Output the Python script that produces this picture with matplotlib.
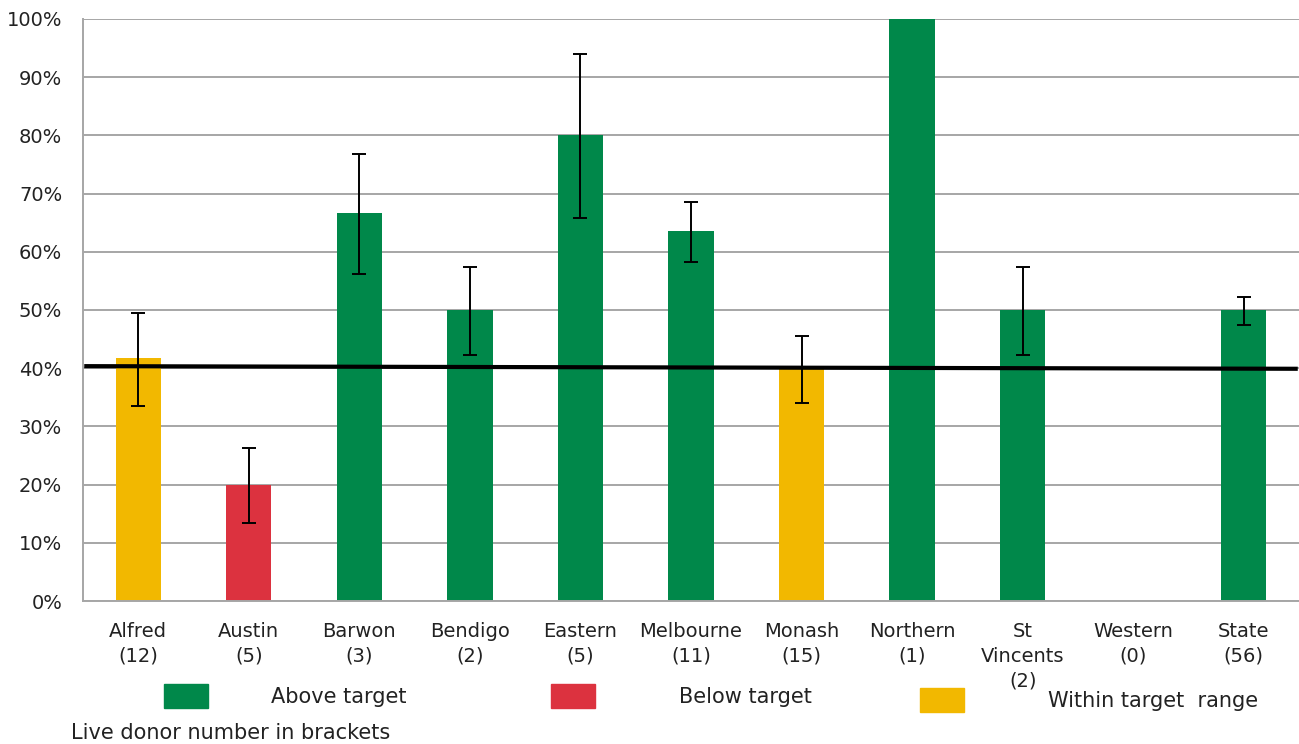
import matplotlib.pyplot as plt
from matplotlib.patches import Rectangle
import numpy as np

plt.rcParams["font.family"] = ["DejaVu Sans"]

hospitals = ["Alfred\n(12)", "Austin\n(5)", "Barwon\n(3)", "Bendigo\n(2)", "Eastern\n(5)",
             "Melbourne\n(11)", "Monash\n(15)", "Northern\n(1)", "St\nVincents\n(2)",
             "Western\n(0)", "State\n(56)"]
rate = [41.7, 20.0, 66.7, 50.0, 80.0, 63.6, 40.0, 100.0, 50.0, 0.0, 50.0]
upper = [49.5, 26.3, 76.8, 57.4, 94.0, 68.6, 45.5, 100.0, 57.4, 0.0, 52.2]
lower = [33.5, 13.4, 56.2, 42.3, 65.8, 58.2, 34.0, 100.0, 42.3, 0.0, 47.4]
status = ["within", "below", "above", "above", "above", "above", "within",
          "above", "above", "none", "above"]
target_line = [40.35, 39.9]

colours = {"above": "#00884A", "below": "#DC323F", "within": "#F2B800", "none": "#FFFFFF"}

fig = plt.figure(figsize=(12.99, 7.44), dpi=100)
ax = fig.add_axes([0.0639, 0.1922, 0.9361, 0.7823])

x = np.arange(len(hospitals))
rate = np.array(rate)
ax.bar(x, rate, width=0.41, color=[colours[s] for s in status], zorder=2)

# error bars only where there is an interval
has_err = np.array(upper) != np.array(lower)
yerr = np.array([rate - np.array(lower), np.array(upper) - rate])
ax.errorbar(x[has_err], rate[has_err], yerr=yerr[:, has_err], fmt="none",
            ecolor="black", elinewidth=1.4, capsize=5, capthick=1.4, zorder=3)

ax.plot([-0.47, 10.47], target_line, color="black", lw=3, zorder=4)

ax.set_xlim(-0.5, 10.5)
ax.set_ylim(0, 100)
ax.set_yticks(np.arange(0, 101, 10))
ax.set_yticklabels([f"{v}%" for v in range(0, 101, 10)], fontsize=14, color="#222222")
ax.set_xticks(x)
ax.set_xticklabels(hospitals, fontsize=14, color="#222222", linespacing=1.4)
ax.tick_params(axis="x", length=0, pad=15)
ax.tick_params(axis="y", length=0, pad=15)
ax.grid(axis="y", color="#A6A6A6", lw=1.4, zorder=0)
for side in ["top", "right"]:
    ax.spines[side].set_visible(False)
ax.spines["left"].set_color("#A6A6A6")
ax.spines["bottom"].set_color("#A6A6A6")
ax.spines["left"].set_linewidth(1.4)
ax.spines["bottom"].set_linewidth(1.4)

# legend drawn by hand, as in the original layout
W, H = 1299, 744
legend_items = [("Above target", "above", 164, 684, 271, 697),
                ("Below target", "below", 551, 684, 679, 697),
                ("Within target  range", "within", 920, 688, 1048, 701)]
for label, key, bx, by, tx, ty in legend_items:
    fig.patches.append(Rectangle((bx / W, 1 - (by + 24) / H), 44 / W, 24 / H,
                                 transform=fig.transFigure, color=colours[key]))
    fig.text(tx / W, 1 - ty / H, label, fontsize=15, color="#222222", va="center")
fig.text(71 / W, 1 - 733 / H, "Live donor number in brackets", fontsize=15,
         color="#222222", va="center")

fig.savefig("out.png", dpi=100)
